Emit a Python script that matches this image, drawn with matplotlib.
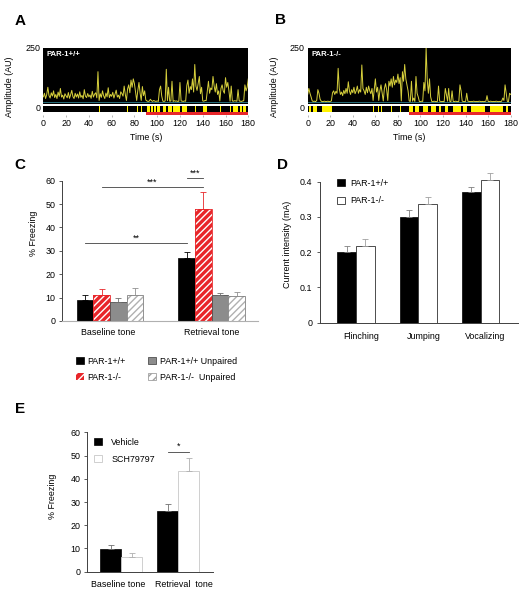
import numpy as np
import matplotlib
matplotlib.use('Agg')
import matplotlib.pyplot as plt
from matplotlib.patches import Patch

plt.rcParams['font.family'] = ['Liberation Sans', 'DejaVu Sans']
plt.rcParams['hatch.linewidth'] = 1.0

# ---------------- data ----------------
amp_wt = [45, 60, 38, 55, 85, 50, 40, 62, 48, 70,
          42, 55, 38, 65, 47, 80, 44, 52, 36, 58,
          49, 41, 63, 39, 54, 72, 46, 38, 60, 44,
          57, 40, 66, 43, 51, 37, 75, 48, 42, 59,
          45, 53, 39, 68, 44, 56, 62, 41, 150, 30,
          58, 43, 70, 49, 38, 61, 45, 83, 42, 55,
          47, 64, 40, 57, 73, 44, 52, 38, 66, 59,
          48, 90, 55, 30, 78, 95, 62, 115, 85, 120,
          100, 65, 30, 72, 105, 60, 30, 88, 50, 70,
          32, 28, 26, 27, 35, 29, 26, 30, 27, 26,
          28, 26, 75, 90, 48, 27, 26, 28, 160, 29,
          85, 27, 28, 110, 26, 29, 27, 28, 26, 27,
          105, 28, 27, 26, 28, 27, 92, 115, 60, 88,
          75, 120, 65, 180, 90, 72, 100, 130, 58, 85,
          28, 27, 30, 29, 70, 110, 60, 82, 75, 130,
          90, 65, 100, 55, 70, 28, 80, 95, 70, 60,
          125, 85, 105, 70, 27, 90, 28, 27, 29, 28,
          27, 75, 28, 27, 26, 28, 29, 95, 70, 85,
          120]
amp_ko = [55, 80, 60, 45, 28, 26, 27, 25, 30, 75,
          60, 35, 27, 25, 26, 27, 25, 26, 27, 25,
          26, 28, 62, 70, 55, 68, 60, 164, 80, 55,
          65, 50, 72, 58, 80, 60, 108, 70, 55, 75,
          62, 85, 58, 70, 90, 60, 75, 65, 178, 80,
          70, 55, 85, 62, 90, 70, 58, 80, 30, 75,
          120, 65, 85, 30, 70, 95, 60, 28, 80, 100,
          75, 30, 110, 90, 120, 85, 130, 95, 115, 105,
          140, 100, 125, 28, 150, 110, 180, 120, 95, 70,
          28, 26, 110, 27, 40, 26, 130, 60, 45, 26,
          25, 27, 26, 105, 70, 250, 115, 60, 120, 45,
          26, 25, 27, 26, 25, 26, 90, 27, 26, 25,
          26, 25, 80, 55, 27, 80, 26, 25, 70, 26,
          25, 27, 26, 25, 26, 95, 70, 27, 26, 25,
          26, 60, 27, 26, 25, 26, 25, 27, 26, 25,
          26, 25, 27, 26, 25, 26, 25, 26, 27, 50,
          26, 25, 27, 26, 25, 26, 25, 27, 26, 25,
          26, 25, 27, 40, 30, 95, 60, 26, 25, 60,
          55]
# freezing episodes (start s, duration s)
freeze_wt = [(49, 0.8), (73.5, 0.8), (82, 0.8), (86, 0.8), (90.7, 3), (94.5, 2),
             (97.5, 1.5), (100, 2.4), (105, 3), (109.5, 3.2), (114, 6), (121.5, 4.5),
             (133, 1), (140, 3.4), (155, 1), (164, 1), (166.5, 4.5), (172.7, 1.5), (175, 3)]
freeze_ko = [(1.5, 1), (5, 3.5), (12.4, 9), (58, 1), (62.5, 1), (65, 1), (74, 1),
             (82, 1), (89.5, 3.5), (95, 4), (102, 4.5), (109, 5), (116, 2.5),
             (122, 2.5), (129, 7), (138, 3), (145, 12), (162, 11), (176, 1.5)]
tone_on, tone_off = 90, 180
time_ticks = [0, 20, 40, 60, 80, 100, 120, 140, 160, 180]

groups_c = ['Baseline tone', 'Retrieval tone']
c_wt, c_wt_err = [9.0, 27.0], [2.0, 2.6]
c_ko, c_ko_err = [11.3, 48.0], [2.2, 7.0]
c_wt_unp, c_wt_unp_err = [8.0, 11.0], [2.0, 1.0]
c_ko_unp, c_ko_unp_err = [11.2, 10.5], [2.8, 2.0]

groups_d = ['Flinching', 'Jumping', 'Vocalizing']
d_wt, d_wt_err = [0.200, 0.300, 0.370], [0.017, 0.020, 0.014]
d_ko, d_ko_err = [0.217, 0.337, 0.405], [0.019, 0.019, 0.020]

groups_e = ['Baseline tone', 'Retrieval  tone']
e_veh, e_veh_err = [9.6, 26.0], [2.1, 3.0]
e_sch, e_sch_err = [6.2, 43.5], [2.0, 5.4]

# ---------------- figure ----------------
W, H = 527, 600
fig = plt.figure(figsize=(W / 100, H / 100), dpi=100)
FS = 6.4


def add_ax(l, t, r, b):
    return fig.add_axes([l / W, 1 - b / H, (r - l) / W, (b - t) / H])


def letter(x, y, s):
    fig.text(x / W, 1 - y / H, s, fontsize=11, fontweight='bold', ha='center', va='center')


RED = '#e8262a'
YEL = '#fff200'


def trace_panel(l, r, amp, freeze, label):
    ax = add_ax(l, 47.7, r, 114.6)
    t = np.arange(len(amp))
    ax.set_xlim(0, 180)
    ax.set_ylim(-29, 250)
    ax.set_facecolor('white')
    ax.axhspan(14, 250, color='black', zorder=0, lw=0)
    ax.axhspan(-18, 6, color='black', zorder=0, lw=0)
    ax.broken_barh(freeze, (-18, 24), facecolors=YEL, zorder=1, lw=0)
    ax.fill_between([tone_on, tone_off], -29, -18, color=RED, lw=0, zorder=1)
    ax.axhline(22, color='#2f7f8f', lw=0.6, zorder=1)
    ax.plot(t, amp, color='#d6cf3c', lw=0.7, zorder=2)
    ax.text(3, 238, label, color='white', fontsize=5.6, fontweight='bold', va='top', ha='left')
    for s in ax.spines.values():
        s.set_visible(False)
    ax.set_xticks(time_ticks)
    ax.set_yticks([0, 250])
    ax.tick_params(axis='x', length=1.5, width=0.5, color='#999999', labelsize=FS, pad=2)
    ax.tick_params(axis='y', length=0, labelsize=FS, pad=2)
    ax.set_xlabel('Time (s)', fontsize=FS, labelpad=3)
    ax.set_ylabel('Amplitude (AU)', fontsize=FS)
    ax.yaxis.set_label_coords(-29 / (r - l), 0.41)
    return ax


trace_panel(43.3, 248.3, amp_wt, freeze_wt, 'PAR-1+/+')
trace_panel(307.7, 510.7, amp_ko, freeze_ko, 'PAR-1-/-')
letter(20, 21, 'A')
letter(281, 20, 'B')

# ---------------- panel C ----------------
axC = add_ax(61.7, 180.7, 258, 321)
xc = np.arange(len(groups_c))
w = 0.164
axC.set_xlim(-0.475, 1.455)
axC.set_ylim(0, 60)
ekw = dict(fmt='none', capsize=2.2, elinewidth=0.6, capthick=0.6)
x1 = xc - 1.5 * w
x2 = xc - 0.5 * w
x3 = xc + 0.5 * w
x4 = xc + 1.5 * w
axC.bar(x1, c_wt, w, color='black', edgecolor='black', lw=0.5)
axC.errorbar(x1, c_wt, yerr=[np.zeros(2), c_wt_err], ecolor='black', **ekw)
axC.bar(x2, c_ko, w, color=RED, edgecolor='white', hatch='/////', lw=0)
axC.bar(x2, c_ko, w, fill=False, edgecolor=RED, lw=0.6)
axC.errorbar(x2, c_ko, yerr=[np.zeros(2), c_ko_err], ecolor=RED, **ekw)
axC.bar(x3, c_wt_unp, w, color='#8c8c8c', edgecolor='#505050', lw=0.6)
axC.errorbar(x3, c_wt_unp, yerr=[np.zeros(2), c_wt_unp_err], ecolor='#707070', **ekw)
axC.bar(x4, c_ko_unp, w, color='white', edgecolor='#b0b0b0', hatch='/////', lw=0)
axC.bar(x4, c_ko_unp, w, fill=False, edgecolor='#808080', lw=0.6)
axC.errorbar(x4, c_ko_unp, yerr=[np.zeros(2), c_ko_unp_err], ecolor='#909090', **ekw)

# significance
axC.plot([x1[0], x1[1]], [33.2, 33.2], color='#404040', lw=0.6)
axC.text((x1[0] + x1[1]) / 2, 33.6, '**', ha='center', va='bottom', fontsize=FS)
axC.plot([x2[0], x2[1]], [57.1, 57.1], color='#404040', lw=0.6, clip_on=False)
axC.text((x2[0] + x2[1]) / 2, 57.5, '***', ha='center', va='bottom', fontsize=FS)
axC.plot([x1[1], x2[1]], [61.0, 61.0], color='#404040', lw=0.6, clip_on=False)
axC.text((x1[1] + x2[1]) / 2, 61.4, '***', ha='center', va='bottom', fontsize=FS, clip_on=False)

axC.set_xticks(xc + np.array([-0.02, 0.0]))
axC.set_xticklabels(groups_c, fontsize=FS)
axC.set_yticks([0, 10, 20, 30, 40, 50, 60])
axC.tick_params(axis='x', length=0, pad=5)
axC.tick_params(axis='y', length=2.5, width=0.6, color='#404040', labelsize=FS, pad=2)
axC.spines['top'].set_visible(False)
axC.spines['right'].set_visible(False)
axC.spines['left'].set_color('#404040')
axC.spines['left'].set_linewidth(0.7)
axC.spines['bottom'].set_color('#b0b0b0')
axC.spines['bottom'].set_linewidth(0.8)
axC.set_ylabel('% Freezing', fontsize=FS)
axC.yaxis.set_label_coords(-0.121, 0.627)
handles_c = [Patch(facecolor='black', edgecolor='black', lw=0.5),
             Patch(facecolor=RED, edgecolor='white', hatch='////', lw=0),
             Patch(facecolor='#8c8c8c', edgecolor='#505050', lw=0.6),
             Patch(facecolor='white', edgecolor='#a0a0a0', hatch='////', lw=0.6)]
labels_c = ['PAR-1+/+', 'PAR-1-/-', 'PAR-1+/+ Unpaired', 'PAR-1-/-  Unpaired']
fig.legend(handles_c, labels_c, ncol=2, loc='upper left',
           bbox_to_anchor=(76 / W, 1 - 357 / H), bbox_transform=fig.transFigure,
           frameon=False, fontsize=FS, handlelength=0.85, handleheight=0.85,
           handletextpad=0.45, labelspacing=0.75, columnspacing=2.5,
           borderpad=0, borderaxespad=0)
letter(20, 165, 'C')

# ---------------- panel D ----------------
axD = add_ax(320, 171.1, 518, 322.7)
xd = np.arange(len(groups_d))
wd = 0.3
axD.set_xlim(-0.578, 2.6)
axD.set_ylim(0, 0.43)
axD.bar(xd - wd / 2, d_wt, wd, color='black', edgecolor='black', lw=0.5, label='PAR-1+/+')
axD.errorbar(xd - wd / 2, d_wt, yerr=[np.zeros(3), d_wt_err], ecolor='#808080', **ekw)
axD.bar(xd + wd / 2, d_ko, wd, color='white', edgecolor='#303030', lw=0.6, label='PAR-1-/-')
axD.errorbar(xd + wd / 2, d_ko, yerr=[np.zeros(3), d_ko_err], ecolor='#a0a0a0', **ekw)
axD.set_xticks(xd + 0.08)
axD.set_xticklabels(groups_d, fontsize=FS)
axD.set_yticks([0, 0.1, 0.2, 0.3, 0.4])
axD.set_yticklabels(['0', '0.1', '0.2', '0.3', '0.4'])
axD.tick_params(axis='x', length=0, pad=7)
axD.tick_params(axis='y', length=2.5, width=0.6, color='#404040', labelsize=FS, pad=3)
axD.spines['top'].set_visible(False)
axD.spines['right'].set_visible(False)
axD.spines['left'].set_bounds(0, 0.4)
for k in ('left', 'bottom'):
    axD.spines[k].set_color('#404040')
    axD.spines[k].set_linewidth(0.7)
axD.set_ylabel('Current intensity (mA)', fontsize=FS)
axD.yaxis.set_label_coords(-0.143, 0.519)
axD.legend(loc='upper left', bbox_to_anchor=(337 / W, 1 - 179 / H), bbox_transform=fig.transFigure,
           frameon=False, fontsize=FS, handlelength=0.85, handleheight=0.85,
           handletextpad=0.65, labelspacing=0.95, borderpad=0, borderaxespad=0)
letter(282, 165, 'D')

# ---------------- panel E ----------------
axE = add_ax(86.7, 432.3, 213, 571.7)
xe = np.arange(len(groups_e))
we = 0.366
axE.set_xlim(-0.6, 1.606)
axE.set_ylim(0, 60)
axE.bar(xe - we / 2, e_veh, we, color='black', edgecolor='black', lw=0.5, label='Vehicle')
axE.errorbar(xe - we / 2, e_veh, yerr=[np.zeros(2), e_veh_err], ecolor='#707070', **ekw)
axE.bar(xe + we / 2, e_sch, we, color='white', edgecolor='#c8c8c8', lw=0.6, label='SCH79797')
axE.errorbar(xe + we / 2, e_sch, yerr=[np.zeros(2), e_sch_err], ecolor='#b0b0b0', **ekw)
axE.plot([xe[1] - we / 2, xe[1] + we / 2], [51.5, 51.5], color='#404040', lw=0.6)
axE.text(xe[1], 51.9, '*', ha='center', va='bottom', fontsize=FS)
axE.set_xticks(xe + np.array([-0.05, 0.105]))
axE.set_xticklabels(groups_e, fontsize=FS)
axE.set_yticks([0, 10, 20, 30, 40, 50, 60])
axE.tick_params(axis='x', length=0, pad=6)
axE.tick_params(axis='y', length=2.5, width=0.6, color='#404040', labelsize=FS, pad=2)
axE.spines['top'].set_visible(False)
axE.spines['right'].set_visible(False)
for k in ('left', 'bottom'):
    axE.spines[k].set_color('#404040')
    axE.spines[k].set_linewidth(0.7)
axE.set_ylabel('% Freezing', fontsize=FS)
axE.yaxis.set_label_coords(-0.233, 0.538)
axE.legend(loc='upper left', bbox_to_anchor=(94 / W, 1 - 438 / H), bbox_transform=fig.transFigure,
           frameon=False, fontsize=FS, handlelength=0.85, handleheight=0.85,
           handletextpad=1.1, labelspacing=0.85, borderpad=0, borderaxespad=0)
letter(20, 409, 'E')

fig.savefig('out.png', dpi=100, facecolor='white')
